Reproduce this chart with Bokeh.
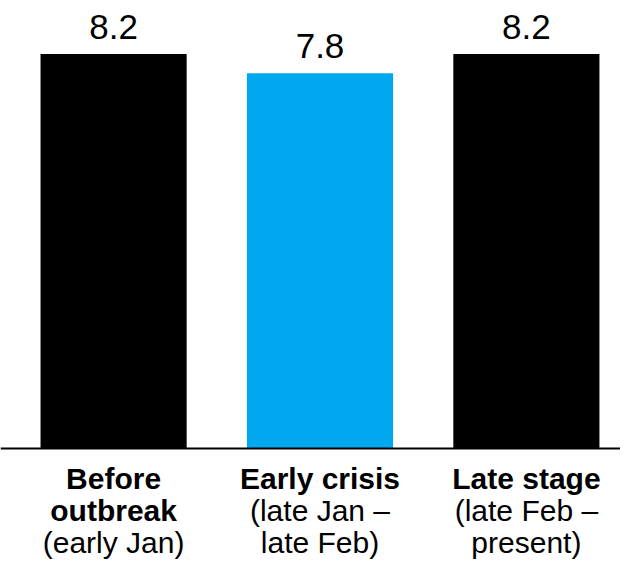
from bokeh.plotting import figure
from bokeh.models import ColumnDataSource, Range1d, Span
from bokeh.core.properties import value
from bokeh.embed import file_html
from bokeh.resources import INLINE

# Data
positions = [0, 1, 2]
values = [8.2, 7.8, 8.2]
value_labels = ["8.2", "7.8", "8.2"]
bar_colors = ["#000000", "#00A8F0", "#000000"]
bold_lines = [["Before", "outbreak"], ["Early crisis"], ["Late stage"]]
normal_lines = [["(early Jan)"], ["(late Jan \u2013", "late Feb)"], ["(late Feb \u2013", "present)"]]

FONT = value("Liberation Sans")

p = figure(width=620, height=568, output_backend="svg", toolbar_location=None,
           x_range=Range1d(-0.548, 2.456), y_range=Range1d(-2.497, 9.312),
           min_border=0, outline_line_color=None)
p.axis.visible = False
p.grid.visible = False
p.background_fill_color = "white"
p.border_fill_color = "white"

src = ColumnDataSource(dict(x=positions, top=values, color=bar_colors, label=value_labels))
p.vbar(x="x", top="top", bottom=0, width=0.708, color="color", line_color=None, source=src)

p.text(x="x", y="top", text="label", source=src, text_font=FONT, text_font_size="35px",
       text_align="center", text_baseline="alphabetic", y_offset=-27, text_color="black")

p.add_layout(Span(location=0, dimension="width", line_color="black", line_width=2))

# category labels, line by line
xs, ys, texts, offs, styles = [], [], [], [], []
for i, (bl, nl) in enumerate(zip(bold_lines, normal_lines)):
    k = 0
    for t in bl:
        xs.append(positions[i]); ys.append(0); texts.append(t); offs.append(30 + 32 * k); styles.append("bold")
        k += 1
    for t in nl:
        xs.append(positions[i]); ys.append(0); texts.append(t); offs.append(30 + 32 * k); styles.append("normal")
        k += 1

lsrc = ColumnDataSource(dict(x=xs, y=ys, text=texts, off=offs, style=styles))
p.text(x="x", y="y", text="text", y_offset="off", text_font_style="style", source=lsrc,
       text_font=FONT, text_font_size="30px", text_align="center",
       text_baseline="alphabetic", text_color="black")

open("out.html", "w").write(file_html(p, INLINE))
